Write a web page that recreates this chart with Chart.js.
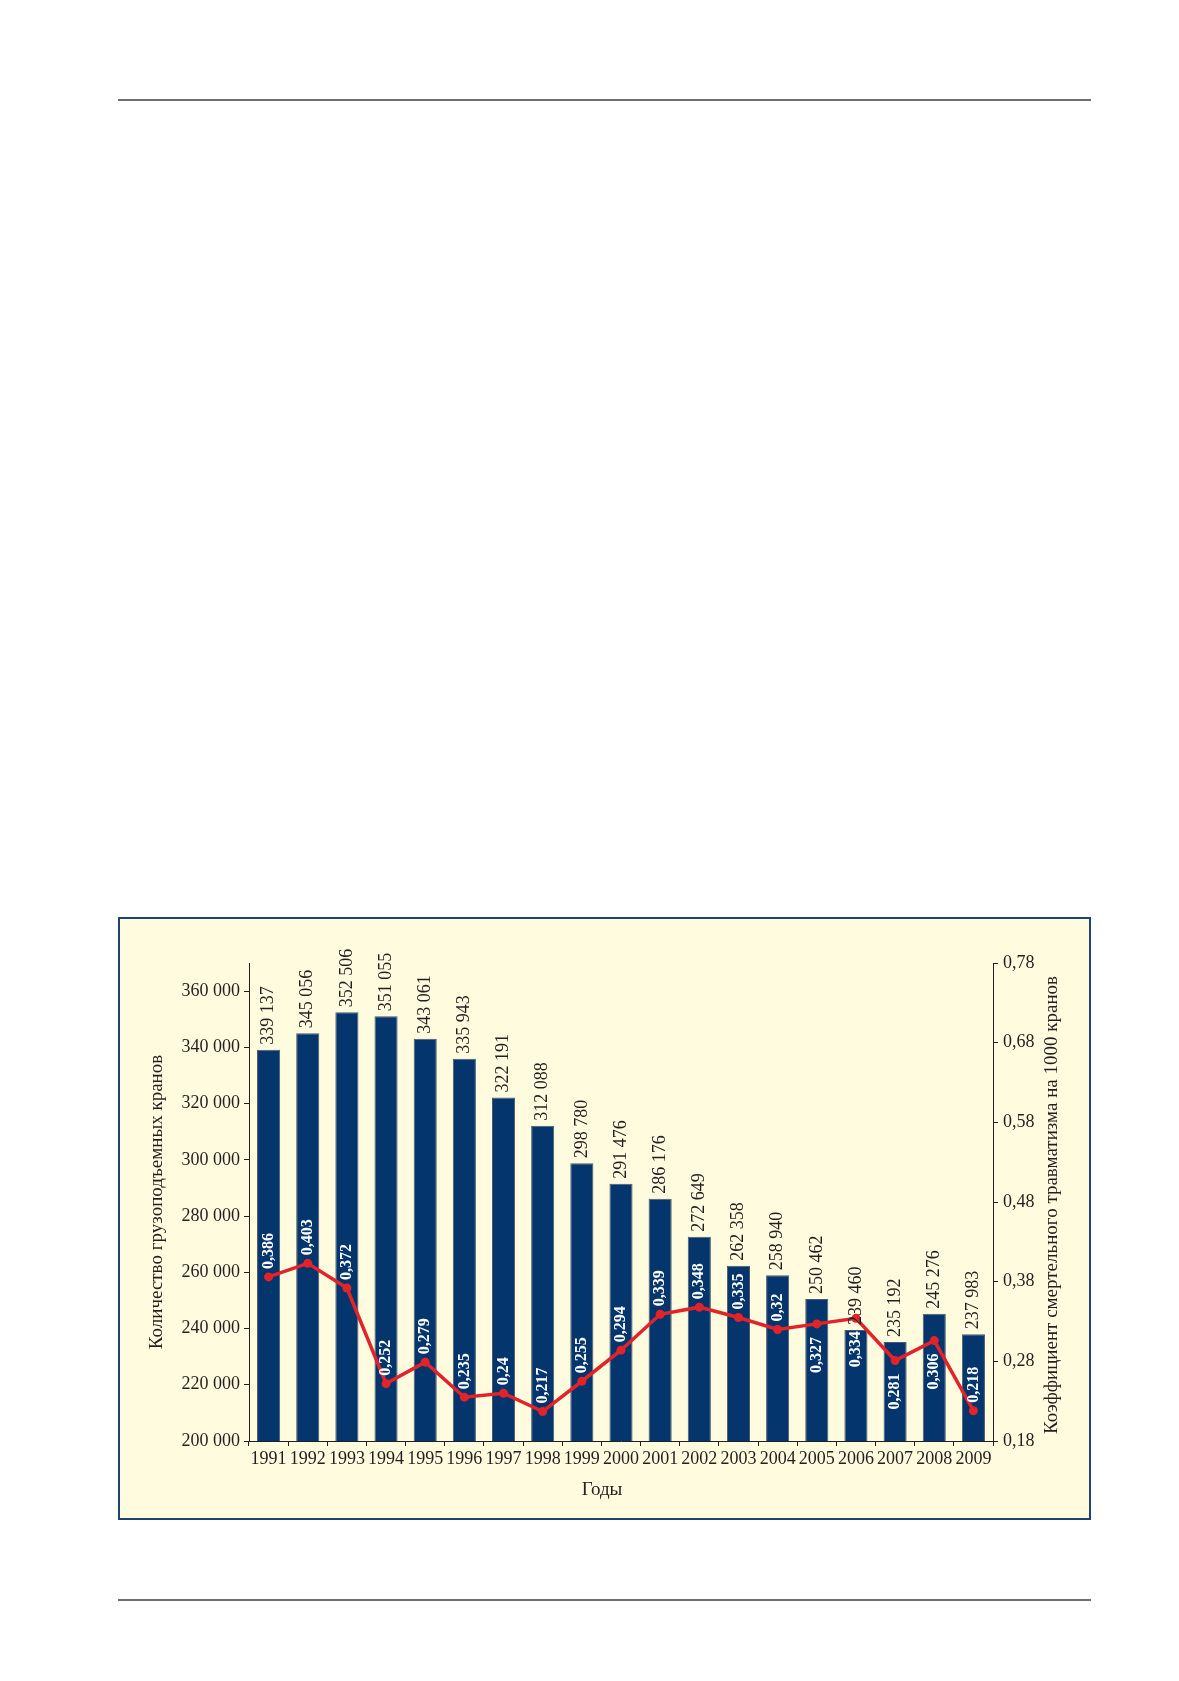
<!DOCTYPE html>
<html>
<head>
<meta charset="utf-8">
<script src="https://cdn.jsdelivr.net/npm/chart.js@4/dist/chart.umd.min.js"></script>
<style>
  html, body { margin: 0; padding: 0; background: #fff; }
  .page { position: relative; width: 1179px; height: 1681px; }
  .rule { position: absolute; left: 118px; width: 973px; height: 2px; background: #6e6e6e; }
  .frame { position: absolute; left: 118px; top: 917px; width: 969px; height: 599px;
           border: 2px solid #1d4372; background: #fefbdf; }
  #chart { position: absolute; left: 0; top: 0; }
</style>
</head>
<body>
<div class="page">
  <div class="rule" style="top:99px"></div>
  <div class="frame"></div>
  <div class="rule" style="top:1599px"></div>
  <canvas id="chart" width="1179" height="1681"></canvas>
</div>
<script>
const years = ['1991', '1992', '1993', '1994', '1995', '1996', '1997', '1998', '1999', '2000',
               '2001', '2002', '2003', '2004', '2005', '2006', '2007', '2008', '2009'];
const craneCounts = [339137, 345056, 352506, 351055, 343061, 335943, 322191, 312088, 298780, 291476,
                     286176, 272649, 262358, 258940, 250462, 239460, 235192, 245276, 237983];
const fatalityRates = [0.386, 0.403, 0.372, 0.252, 0.279, 0.235, 0.24, 0.217, 0.255, 0.294,
                       0.339, 0.348, 0.335, 0.32, 0.327, 0.334, 0.281, 0.306, 0.218];
const countTicks = [200000, 220000, 240000, 260000, 280000, 300000, 320000, 340000, 360000];
const rateTicks = [0.18, 0.28, 0.38, 0.48, 0.58, 0.68, 0.78];

// years whose rate label sits under the point in the original
const labelBelow = ['2005', '2006', '2007', '2008'];

const serif = '"Liberation Serif", "Times New Roman", serif';
const ink = '#231f20';

function spaced(n) {
    return String(n).replace(/\B(?=(\d{3})+(?!\d))/g, ' ');
}

function comma(v) {
    return String(v).replace('.', ',');
}

function drawRotated(ctx, text, x, y, align) {
    ctx.save();
    ctx.translate(x, y);
    ctx.rotate(-Math.PI / 2);
    ctx.textAlign = align;
    ctx.textBaseline = 'middle';
    ctx.fillText(text, 0, 0);
    ctx.restore();
}

const labelsPlugin = {
    id: 'valueLabels',
    afterDatasetsDraw(chart) {
        const ctx = chart.ctx;
        const points = chart.getDatasetMeta(0).data;
        const bars = chart.getDatasetMeta(1).data;
        ctx.save();

        ctx.fillStyle = ink;
        ctx.font = '18px ' + serif;
        bars.forEach((bar, i) => drawRotated(ctx, spaced(craneCounts[i]), bar.x, bar.y - 5, 'left'));

        ctx.fillStyle = '#ffffff';
        ctx.font = 'bold 16px ' + serif;
        points.forEach((pt, i) => {
            if (labelBelow.includes(years[i])) {
                drawRotated(ctx, comma(fatalityRates[i]), pt.x, pt.y + 13, 'right');
            } else {
                drawRotated(ctx, comma(fatalityRates[i]), pt.x, pt.y - 8, 'left');
            }
        });

        // axis titles
        const area = chart.chartArea;
        const midY = (area.top + area.bottom) / 2;
        ctx.fillStyle = ink;
        ctx.font = '19px ' + serif;
        drawRotated(ctx, 'Количество грузоподъемных кранов', 157, midY, 'center');
        drawRotated(ctx, 'Коэффициент смертельного травматизма на 1000 кранов', 1052, midY + 3, 'center');
        ctx.textAlign = 'center';
        ctx.textBaseline = 'middle';
        ctx.fillText('Годы', (area.left + area.right) / 2 - 19, 1490);
        ctx.restore();
    }
};

const axisLine = { display: true, color: ink, width: 1 };
const tickMarks = { drawOnChartArea: false, drawTicks: true, tickLength: 5, color: ink, lineWidth: 1 };

new Chart(document.getElementById('chart'), {
    data: {
        labels: years,
        datasets: [
            {
                type: 'line',
                data: fatalityRates,
                yAxisID: 'y1',
                borderColor: '#e3232a',
                backgroundColor: '#e3232a',
                borderWidth: 3.5,
                pointRadius: 4.5,
                pointBorderWidth: 0,
                tension: 0,
                order: 0
            },
            {
                type: 'bar',
                data: craneCounts,
                yAxisID: 'y',
                backgroundColor: '#05356d',
                borderColor: '#4d5968',
                borderWidth: 1,
                categoryPercentage: 1,
                barPercentage: 0.59,
                order: 1
            }
        ]
    },
    options: {
        responsive: false,
        animation: false,
        layout: { padding: { top: 963, left: 0, right: 0, bottom: 0 } },
        plugins: { legend: { display: false }, tooltip: { enabled: false } },
        scales: {
            x: {
                offset: true,
                grid: { ...tickMarks, offset: true },
                border: axisLine,
                ticks: { color: ink, font: { family: serif, size: 18 }, padding: 2, maxRotation: 0, autoSkip: false },
                afterFit: scale => { scale.height = 240; }
            },
            y: {
                position: 'left',
                min: 200000,
                max: 370000,
                grid: tickMarks,
                border: axisLine,
                afterBuildTicks: scale => { scale.ticks = countTicks.map(v => ({ value: v })); },
                ticks: { color: ink, font: { family: serif, size: 18 }, padding: 4, callback: v => spaced(v) },
                afterFit: scale => { scale.width = 249; }
            },
            y1: {
                position: 'right',
                min: 0.18,
                max: 0.78,
                grid: tickMarks,
                border: axisLine,
                afterBuildTicks: scale => { scale.ticks = rateTicks.map(v => ({ value: v })); },
                ticks: { color: ink, font: { family: serif, size: 18 }, padding: 5, callback: v => comma(v.toFixed(2)) },
                afterFit: scale => { scale.width = 186; }
            }
        }
    },
    plugins: [labelsPlugin]
});
</script>
</body>
</html>
